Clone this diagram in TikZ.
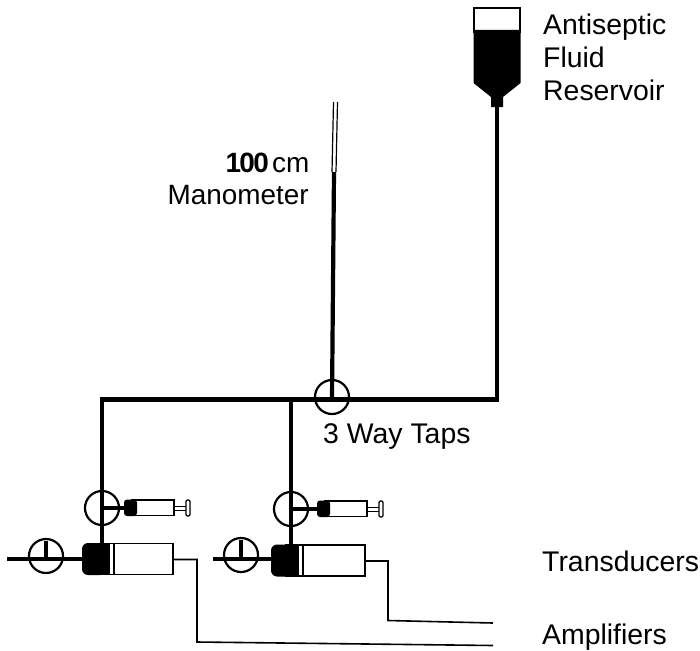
\documentclass[tikz,border=0pt]{standalone}
\usepackage{fontspec}
\usetikzlibrary{calc}
\setmainfont{Liberation Sans}
\tikzset{
  pipe/.style={line width=4.2pt},
  wire/.style={line width=1.6pt},
  tap/.style={circle,draw,line width=2.2pt,minimum size=34pt,inner sep=0pt},
  lbl/.style={inner sep=0pt,anchor=base west,font=\fontsize{28.4pt}{30pt}\selectfont},
  lblr/.style={lbl,anchor=base east,font=\fontsize{27.9pt}{30pt}\selectfont},
  outline/.style={draw,line width=1.6pt,fill=white},
}
\newcommand{\syringe}[2]{%
  \begin{scope}[shift={(#1,#2)}]
    \draw[line width=1pt] (50,-2) -- (62,-2) (50,2) -- (62,2);
    \draw[fill=white,line width=1.2pt,rounded corners=1.2pt] (62,-8) rectangle (66,8);
    \draw[outline] (8,-8) rectangle (50,7.5);
    \fill[rounded corners=3pt] (0,-8.5) rectangle (13,8);
  \end{scope}}
\newcommand{\transducer}[3]{%
  \begin{scope}[shift={(#1,#2)}]
    \draw[outline] (15,-15.5) rectangle (#3,15.5);
    \draw[line width=1.2pt] (32,-15.5) -- (32,15.5);
    \fill[rounded corners=6pt] (0,-16) rectangle (24,16);
    \fill (15,-16) rectangle (28,16);
  \end{scope}}
\begin{document}
\begin{tikzpicture}[x=1pt,y=-1pt]
\useasboundingbox (0,0) rectangle (700,650);
% reservoir
\draw[outline] (474,8) rectangle (520,32);
\fill (473.5,30) -- (520.5,30) -- (520.5,83) -- (503,97) -- (503,107) -- (491,107) -- (491,97) -- (473.5,83) -- cycle;
% named junctions
\coordinate (resout) at (497,105);
\coordinate (corner) at (497,399.5);
\coordinate (leftc) at (102,399.5);
\coordinate (midc) at (291,399.5);
\coordinate (manbase) at (334,172);
\coordinate (mantop) at (335.5,102);
\node[tap] (t0) at (332,397) {};
\node[tap] (t1) at (102,508) {};
\node[tap] (t2) at (291,509) {};
\node[tap] (t3) at (46,556) {};
\node[tap] (t4) at (241,555) {};
% pipes
\draw[pipe] (resout) -- (497,401.6) (corner) ++(2.1,0) -- (leftc) -- (102,545);
\draw[pipe] (leftc) ++(-2.1,0) -- (102,399.5);
\draw[pipe] (midc) -- (291,545);
\draw[pipe] (manbase) -- (332,398);
\draw[line width=1.2pt] ($(mantop)+(-2,0)$) -- ($(manbase)+(-2,0)$) ($(mantop)+(2,0)$) -- ($(manbase)+(2,0)$);
\draw[pipe,line width=3.5pt] (t1.center) -- (126,508);
\draw[pipe,line width=3.5pt] (t2.center) -- (319,509);
\draw[pipe] (7,559) -- (84,559);
\draw[pipe] (213,559) -- (273,559);
\draw[pipe,line width=3.5pt] (t3.center) ++(0,-15) -- (46,559);
\draw[pipe,line width=3.5pt] (t4.center) ++(0,-15) -- (241,559);
% wires
\draw[wire] (173,559.5) -- (197,559.5) -- (197,642) -- (493,645.5);
\draw[wire] (365,561) -- (388,561) -- (388,620.5) -- (493,623);
% devices
\syringe{124}{508}
\syringe{317}{509}
\transducer{82}{559}{91}
\transducer{271}{560.5}{94}
% labels
\node[lblr] (l100) at (309.5,172) {\textbf{\addfontfeature{LetterSpace=-6}100}\kern5pt cm};
\node[lblr] (lman) at (309,204) {Manometer};
\node[lbl] (la) at (543,35) {Antiseptic};
\node[lbl] (lb) at (543,68) {Fluid};
\node[lbl] (lc) at (543,100) {Reservoir};
\node[lbl] (lw) at (323,443) {3 Way Taps};
\node[lbl] (ltr) at (542,571) {Transducers};
\node[lbl] (lam) at (542,644) {Amplifiers};
\end{tikzpicture}
\end{document}
